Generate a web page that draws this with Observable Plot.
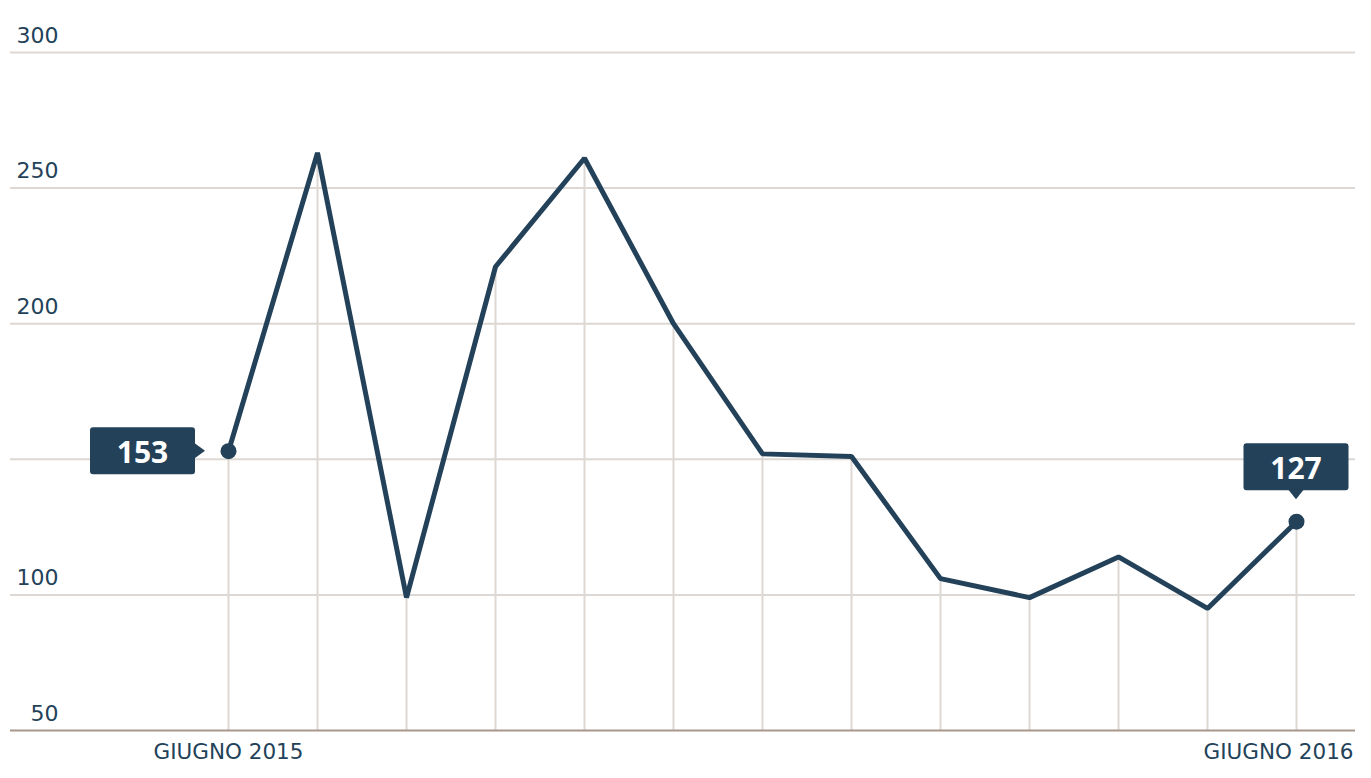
<!DOCTYPE html>
<html><head><meta charset="utf-8">
<script src="https://cdn.jsdelivr.net/npm/d3@7"></script>
<script src="https://cdn.jsdelivr.net/npm/@observablehq/plot@0.6"></script>
<style>
body{margin:0;background:#fff;}
#chart svg{display:block;}
</style>
</head><body><div id="chart"></div>
<script>
const months = ["giu 2015","lug 2015","ago 2015","set 2015","ott 2015","nov 2015","dic 2015","gen 2016","feb 2016","mar 2016","apr 2016","mag 2016","giu 2016"];
const values = [153, 263, 99, 221, 261, 200, 152, 151, 106, 99, 114, 95, 127];
const yTickValues = [50, 100, 200, 250, 300];
const yGridValues = [100, 150, 200, 250, 300];
const xLabelIndex = [0, 12];
const xLabelText = ["GIUGNO 2015", "GIUGNO 2016"];
const calloutIndex = [0, 12];
const calloutSide = ["left", "top"];

const NAVY = "#23425a";
const GRID = "#ddd8d3";
const BASE = "#a8978c";

const data = months.map((m, i) => ({i, month: m, v: values[i]}));
const xLabels = xLabelIndex.map((i, k) => ({i, label: xLabelText[k]}));
const callouts = calloutIndex.map((i, k) => ({i, v: values[i], side: calloutSide[k]}));

function calloutMark(index, scales) {
  const g = d3.create("svg:g").attr("aria-label", "callouts");
  for (const c of callouts) {
    const cx = scales.x(c.i), cy = scales.y(c.v);
    const w = 105, h = 47;
    let left, top, tri;
    if (c.side === "left") {
      const right = cx - 33;
      left = right - w; top = cy - h / 2;
      tri = [[right - 1, cy - 8], [right + 10, cy], [right - 1, cy + 8]];
    } else {
      const bottom = cy - 31;
      left = cx - w / 2; top = bottom - h;
      tri = [[cx - 8, bottom - 1], [cx, bottom + 9], [cx + 8, bottom - 1]];
    }
    g.append("rect").attr("x", left).attr("y", top).attr("width", w).attr("height", h)
      .attr("rx", 3).attr("fill", NAVY);
    g.append("path").attr("d", "M" + tri.map(p => p.join(",")).join("L") + "Z").attr("fill", NAVY);
    g.append("text").attr("x", left + w / 2).attr("y", top + h / 2 + 1)
      .attr("text-anchor", "middle").attr("dominant-baseline", "central")
      .attr("fill", "#fff").attr("font-family", "'Open Sans', sans-serif")
      .attr("font-weight", 700).attr("font-size", 30).text(String(c.v));
  }
  return g.node();
}

const chart = Plot.plot({
  width: 1371,
  height: 778,
  marginTop: 52,
  marginBottom: 48,
  marginLeft: 10,
  marginRight: 16,
  x: {domain: [0, 12], insetLeft: 218, insetRight: 59, axis: null},
  y: {domain: [50, 300], axis: null},
  style: {fontFamily: "'DejaVu Sans', sans-serif", color: NAVY, background: "#fff"},
  marks: [
    Plot.ruleY(yGridValues, {stroke: GRID, strokeWidth: 2}),
    Plot.ruleX(data, {x: "i", y1: 50, y2: "v", stroke: GRID, strokeWidth: 2}),
    Plot.ruleY([50], {stroke: BASE, strokeWidth: 2}),
    Plot.text(yTickValues, {y: d => d, frameAnchor: "left", dx: 48, dy: -17, textAnchor: "end", text: d => String(d), fontSize: 22, fill: NAVY}),
    Plot.text(xLabels.slice(0, 1), {x: "i", y: 50, dy: 22, lineAnchor: "middle", textAnchor: "middle", text: "label", fontSize: 21.5, fill: NAVY}),
    Plot.text(xLabels.slice(1), {x: "i", y: 50, dy: 22, dx: 57, lineAnchor: "middle", textAnchor: "end", text: "label", fontSize: 21.5, fill: NAVY}),
    Plot.line(data, {x: "i", y: "v", stroke: NAVY, strokeWidth: 5, strokeLinejoin: "miter", strokeLinecap: "butt"}),
    Plot.dot(callouts, {x: "i", y: "v", r: 8, fill: NAVY}),
    calloutMark
  ]
});
document.getElementById("chart").append(chart);
</script>
</body></html>
